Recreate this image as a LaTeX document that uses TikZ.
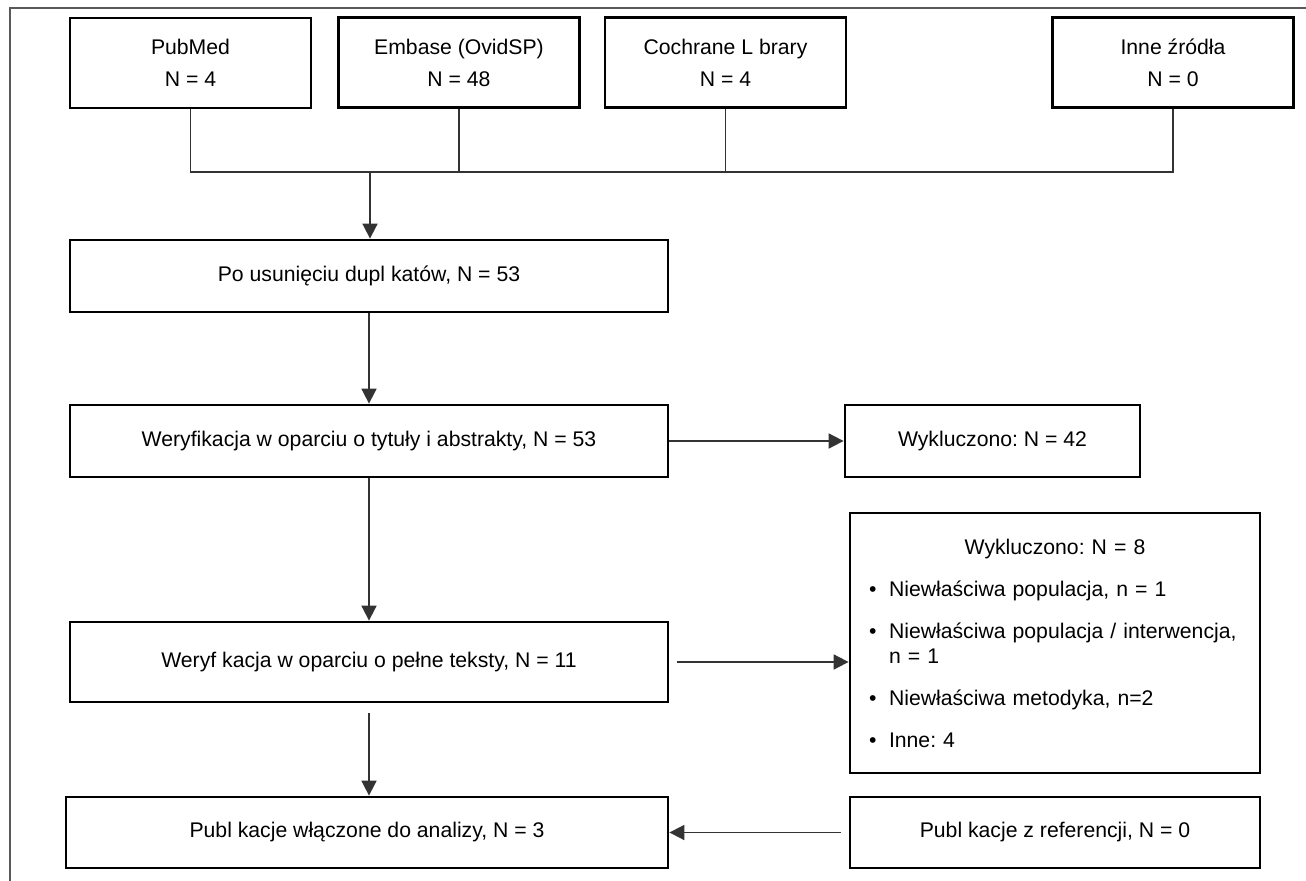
\documentclass[tikz,border=0pt]{standalone}
\usepackage{fontspec}
\setmainfont{Liberation Sans}
\usepackage{enumitem}
\usetikzlibrary{arrows.meta,positioning,calc}
\frenchspacing

\tikzset{
  box/.style={draw, line width=1.4pt, align=center, inner sep=0pt,
    font=\fontsize{10.6pt}{16pt}\selectfont},
  srcbox/.style={box, minimum width=120.5pt, minimum height=45pt},
  mainbox/.style={box, minimum width=299pt, minimum height=36pt},
  link/.style={draw=black!80, line width=0.9pt},
  arr/.style={link, -{Triangle[length=7.5pt,width=7.5pt]}},
}

\begin{document}
\begin{tikzpicture}[x=0.5pt,y=-0.5pt]
  \useasboundingbox (0,0) rectangle (1306,881);
  % page frame, cut at right and bottom
  \draw[black!65, line width=0.8pt] (10,900) -- (10,8) -- (1320,8);
  % sources
  \node[srcbox] (pubmed) at (190.5,63) {PubMed\\N = 4};
  \node[srcbox] (embase) at (459,62.5) {Embase (OvidSP)\\N = 48};
  \node[srcbox] (cochrane) at (725.5,62.5) {Cochrane L brary\\N = 4};
  \node[srcbox] (inne) at (1173,62.5) {Inne źródła\\N = 0};
  \coordinate (join) at (370,172);
  \draw[link] (pubmed) -- (pubmed |- join) -- (inne |- join) -- (inne);
  \draw[link] (embase) -- (embase |- join);
  \draw[link] (cochrane) -- (cochrane |- join);
  % main column
  \node[mainbox] (dedup) at (369,276) {Po usunięciu dupl katów, N = 53};
  \node[mainbox] (screen) at (369,441) {Weryfikacja w oparciu o tytuły i abstrakty, N = 53};
  \node[mainbox, minimum height=40pt] (fulltext) at (369,662) {Weryf kacja w oparciu o pełne teksty, N = 11};
  \node[box, minimum width=301pt, minimum height=35.5pt] (final) at (367,832.5) {Publ kacje włączone do analizy, N = 3};
  % right column
  \node[box, minimum width=147.5pt, minimum height=36pt] (excl1) at (992.5,441) {Wykluczono: N = 42};
  \node[box, minimum width=205pt, minimum height=130pt, text width=186pt,
    inner xsep=9.5pt, align=left, font=\fontsize{10.6pt}{12.5pt}\selectfont] (excl2) at (1055,643) {%
    {\centering Wykluczono: N = 8\par}
    \begin{itemize}[label=\textbullet, leftmargin=10pt, labelwidth=4pt, labelsep=6pt,
      align=left, topsep=8.5pt, partopsep=0pt, parsep=0pt, itemsep=8.5pt]
      \item Niewłaściwa populacja, n = 1
      \item Niewłaściwa populacja / interwencja, n = 1
      \item Niewłaściwa metodyka, n=2
      \item Inne: 4
    \end{itemize}};
  \node[box, minimum width=205pt, minimum height=35.5pt] (refs) at (1055,832.5) {Publ kacje z referencji, N = 0};
  % arrows
  \draw[arr] (join) -- (join |- dedup.north);
  \draw[arr] (dedup) -- (screen);
  \draw[arr] (screen) -- (excl1);
  \draw[arr] (screen) -- (fulltext);
  \draw[arr, shorten <=4pt] (fulltext.east) -- (fulltext.east -| excl2.west);
  \draw[arr, shorten <=5pt] (fulltext.south) -- (fulltext.south |- final.north);
  \draw[arr, shorten <=4pt] (refs) -- (final);
\end{tikzpicture}
\end{document}
